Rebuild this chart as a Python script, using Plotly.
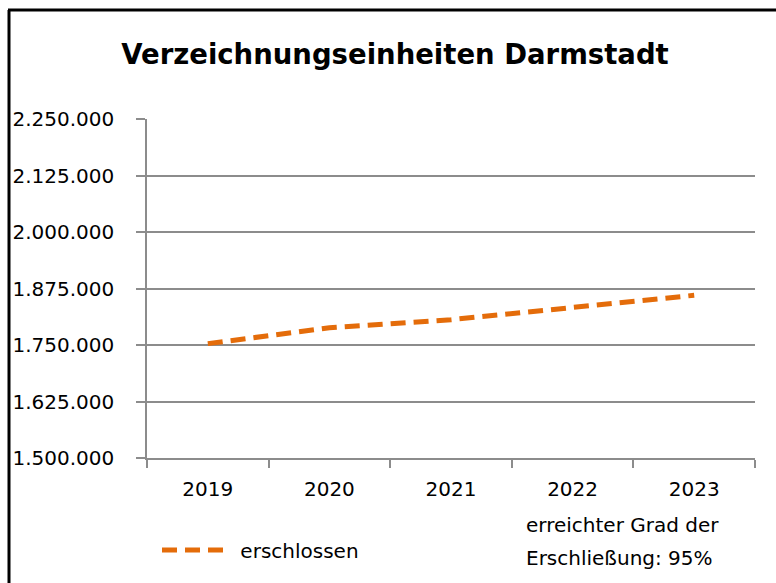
import plotly.graph_objects as go

years = ["2019", "2020", "2021", "2022", "2023"]
erschlossen = [1753000, 1788000, 1806000, 1832500, 1860000]
y_tickvals = [1500000, 1625000, 1750000, 1875000, 2000000, 2125000, 2250000]
y_ticktext = ["1.500.000", "1.625.000", "1.750.000", "1.875.000", "2.000.000", "2.125.000", "2.250.000"]
title_text = "Verzeichnungseinheiten Darmstadt"
note_lines = ["erreichter Grad der", "Erschließung: 95%"]

FONT = "DejaVu Sans"
ORANGE = "#E46C0A"
GRID = "#8C8C8C"

W, H = 776, 583
L, R, T, B = 147, 755, 119, 458

def px(x):
    return (x - L) / (R - L)

def py(y):
    return (B - y) / (B - T)

fig = go.Figure()
fig.add_trace(go.Scatter(
    x=years, y=erschlossen, mode="lines", name="\u00a0erschlossen",
    line=dict(color=ORANGE, width=5, dash="15px,8px"),
))

fig.update_layout(
    width=W, height=H,
    margin=dict(l=L, r=W - R, t=T, b=H - B),
    paper_bgcolor="white", plot_bgcolor="white",
    font=dict(family=FONT, size=20, color="black"),
    title=dict(text="<b>" + title_text + "</b>", x=px(395), xref="paper", xanchor="center",
               y=1 - 54 / H, yanchor="middle", font=dict(family=FONT, size=27.5, color="black")),
    showlegend=True,
    legend=dict(x=px(157), y=py(550), xanchor="left", yanchor="middle", xref="paper", yref="paper",
                orientation="h", itemwidth=67, font=dict(family=FONT, size=20),
                bgcolor="rgba(0,0,0,0)"),
    xaxis=dict(type="category", showgrid=False, showline=True, linecolor=GRID, linewidth=1.5,
               ticks="outside", tickson="boundaries", ticklen=8, tickcolor=GRID, tickwidth=1.5,
               ticklabelstandoff=12, range=[-0.5, 4.5], fixedrange=True),
    yaxis=dict(range=[1500000, 2250000], tickvals=y_tickvals, ticktext=y_ticktext,
               showgrid=True, gridcolor=GRID, gridwidth=1.5, showline=True, linecolor=GRID, linewidth=1.5,
               ticks="outside", ticklen=9, tickcolor=GRID, tickwidth=1.5, ticklabelstandoff=18,
               zeroline=False, fixedrange=True),
)

for i, line in enumerate(note_lines):
    fig.add_annotation(text=line, x=px(524), y=py(525 + 33 * i), xref="paper", yref="paper",
                       xanchor="left", yanchor="middle", showarrow=False,
                       font=dict(family=FONT, size=20, color="black"))

# outer chart border (left and top visible)
fig.add_shape(type="line", xref="paper", yref="paper", x0=px(9), x1=px(9), y0=py(600), y1=py(10),
              line=dict(color="black", width=3))
fig.add_shape(type="line", xref="paper", yref="paper", x0=px(8), x1=px(790), y0=py(10), y1=py(10),
              line=dict(color="black", width=3))

fig.write_html("out.html", config={"displayModeBar": False},
               post_script="document.body.style.margin='0px';")
